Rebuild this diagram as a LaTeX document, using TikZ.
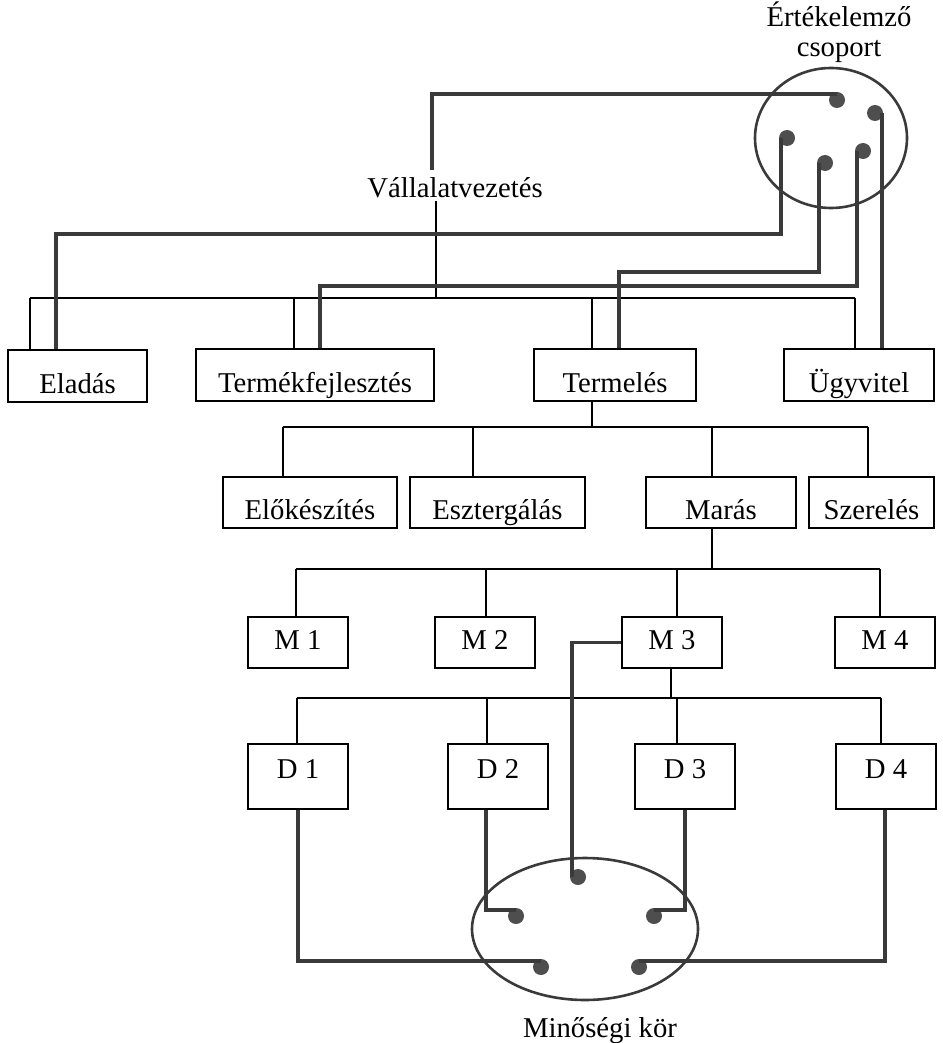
\documentclass[tikz,border=0pt]{standalone}
\usepackage{fontspec}
\setmainfont{Liberation Serif}
\usetikzlibrary{calc,shapes.geometric}
\definecolor{cgray}{HTML}{3A3A3A}
\definecolor{dotgray}{HTML}{4E4E4E}
\begin{document}
\begin{tikzpicture}[x=1pt,y=-1pt,
  every node/.style={font=\fontsize{28.7}{34}\selectfont},
  orgline/.style={draw=black, line width=1.7pt},
  conn/.style={draw=cgray, line width=3.4pt},
  boxA/.style={draw=black, line width=2pt, anchor=north west, inner xsep=0pt, inner ysep=0pt, text height=43pt, text depth=9pt},
  boxB/.style={boxA, text height=42pt, text depth=9pt},
  boxM/.style={boxA, minimum width=100pt, text height=32pt, text depth=19pt},
  boxD/.style={boxA, minimum width=100pt, text height=34pt, text depth=31pt},
  dot/.style={circle, fill=dotgray, inner sep=0pt, minimum size=16pt},
  group/.style={ellipse, draw=cgray, line width=2.6pt, inner sep=0pt}]
\useasboundingbox (0,0) rectangle (942,1043);

% labels
\node[align=center, inner sep=0pt, anchor=north, font=\fontsize{28.7}{30}\selectfont] (ert) at (839,2) {Értékelemző\\csoport};
\node[anchor=base] (vv) at (455,197) {Vállalatvezetés};
\node[anchor=base] (mk) at (600,1037) {Minőségi kör};

% boxes
\node[boxA, minimum width=139pt] (Eladas) at (7,349) {Eladás};
\node[boxA, minimum width=238pt] (Termekf) at (195,348) {Termékfejlesztés};
\node[boxA, minimum width=162pt] (Termeles) at (533,348) {Termelés};
\node[boxA, minimum width=150pt] (Ugyvitel) at (783,348) {Ügyvitel};

\node[boxB, minimum width=174pt] (Elokesz) at (222,476) {Előkészítés};
\node[boxB, minimum width=175pt] (Eszterg) at (409,476) {Esztergálás};
\node[boxB, minimum width=150pt] (Maras) at (645,476) {Marás};
\node[boxB, minimum width=125pt] (Szereles) at (808,476) {Szerelés};

\node[boxM] (M1) at (247,616) {M 1};
\node[boxM] (M2) at (434,616) {M 2};
\node[boxM] (M3) at (621,616) {M 3};
\node[boxM] (M4) at (834,616) {M 4};

\node[boxD] (D1) at (247,743) {D 1};
\node[boxD] (D2) at (447,743) {D 2};
\node[boxD] (D3) at (634,743) {D 3};
\node[boxD] (D4) at (835,743) {D 4};

% groups
\node[group, minimum width=152pt, minimum height=140pt] (ek) at (831,138) {};
\node[group, minimum width=226pt, minimum height=142pt] (mq) at (585,929) {};

% org chart lines
\coordinate (b0) at (436,298);
\coordinate (bE) at (30,298);
\coordinate (bF) at (294,298);
\coordinate (bT) at (592,298);
\coordinate (bU) at (855,298);
\draw[orgline] (bE) -- (bU);
\draw[orgline] (b0 |- vv.south) -- (b0);
\draw[orgline] (bE) -- (bE |- Eladas.north);
\draw[orgline] (bF) -- (bF |- Termekf.north);
\draw[orgline] (bT) -- (bT |- Termeles.north);
\draw[orgline] (bU) -- (bU |- Ugyvitel.north);

\coordinate (c0) at (592,427);
\coordinate (cA) at (283,427);
\coordinate (cB) at (473,427);
\coordinate (cC) at (712,427);
\coordinate (cD) at (868,427);
\draw[orgline] (c0 |- Termeles.south) -- (c0);
\draw[orgline] (cA) -- (cD);
\draw[orgline] (cA) -- (cA |- Elokesz.north);
\draw[orgline] (cB) -- (cB |- Eszterg.north);
\draw[orgline] (cC) -- (cC |- Maras.north);
\draw[orgline] (cD) -- (cD |- Szereles.north);

\coordinate (m0) at (712,569);
\coordinate (mB1) at (296,569);
\coordinate (mB2) at (486,569);
\coordinate (mB3) at (677,569);
\coordinate (mB4) at (880,569);
\draw[orgline] (m0 |- Maras.south) -- (m0);
\draw[orgline] (mB1) -- (mB4);
\draw[orgline] (mB1) -- (mB1 |- M1.north);
\draw[orgline] (mB2) -- (mB2 |- M2.north);
\draw[orgline] (mB3) -- (mB3 |- M3.north);
\draw[orgline] (mB4) -- (mB4 |- M4.north);

\coordinate (n0) at (671,698);
\coordinate (nB1) at (297,698);
\coordinate (nB2) at (487,698);
\coordinate (nB3) at (677,698);
\coordinate (nB4) at (881,698);
\draw[orgline] (n0 |- M3.south) -- (n0);
\draw[orgline] (nB1) -- (nB4);
\draw[orgline] (nB1) -- (nB1 |- D1.north);
\draw[orgline] (nB2) -- (nB2 |- D2.north);
\draw[orgline] (nB3) -- (nB3 |- D3.north);
\draw[orgline] (nB4) -- (nB4 |- D4.north);

% dots of the value analysis group
\node[dot] (dA) at (837,100) {};
\node[dot] (dB) at (875,113) {};
\node[dot] (dC) at (787,138) {};
\node[dot] (dD) at (825,163) {};
\node[dot] (dE) at (863,151) {};

\coordinate (vt) at (432,170);
\coordinate (eA) at (56,234);
\coordinate (tA) at (619,272);
\coordinate (fA) at (320,286);
\coordinate (uA) at ($(dB)+(7,0)$);
\draw[conn] ($(dA)+(0,-6)$) -| (vt);
\draw[conn] ($(dC)+(-6,0)$) |- (eA) -- (eA |- Eladas.north);
\draw[conn] ($(dD)+(-6,0)$) |- (tA) -- (tA |- Termeles.north);
\draw[conn] ($(dE)+(-6,0)$) |- (fA) -- (fA |- Termekf.north);
\draw[conn] (uA) -- (uA |- Ugyvitel.north);

% dots of the quality circle
\node[dot] (eT) at (578,877) {};
\node[dot] (eL) at (516,916) {};
\node[dot] (eR) at (654,916) {};
\node[dot] (eBL) at (541,967) {};
\node[dot] (eBR) at (639,967) {};

\coordinate (qT) at ($(eT)+(-6,0)$);
\coordinate (k1) at (298,961);
\coordinate (k2) at (486,910);
\coordinate (k3) at (685,910);
\coordinate (k4) at (885,961);
\draw[conn] (M3.west) -| (qT);
\draw[conn] (k1 |- D1.south) -- (k1) -- ($(eBL)+(0,-6)$);
\draw[conn] (k2 |- D2.south) -- (k2) -- ($(eL)+(0,-6)$);
\draw[conn] (k3 |- D3.south) -- (k3) -- ($(eR)+(0,-6)$);
\draw[conn] (k4 |- D4.south) -- (k4) -- ($(eBR)+(0,-6)$);
\end{tikzpicture}
\end{document}
